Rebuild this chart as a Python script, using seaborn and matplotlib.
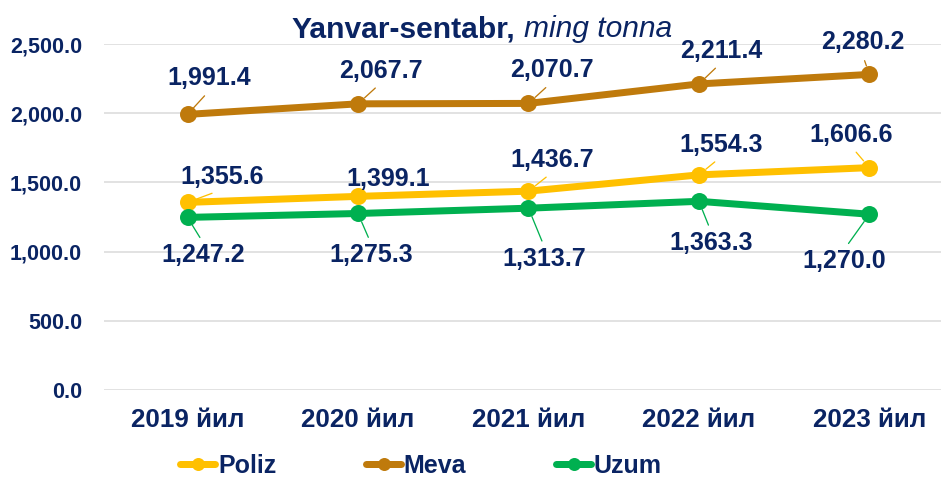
import matplotlib
matplotlib.use("Agg")
import matplotlib.pyplot as plt
import seaborn as sns
import pandas as pd
from matplotlib.lines import Line2D

years = ["2019 йил", "2020 йил", "2021 йил", "2022 йил", "2023 йил"]
poliz = [1355.6, 1399.1, 1436.7, 1554.3, 1606.6]
meva = [1991.4, 2067.7, 2070.7, 2211.4, 2280.2]
uzum = [1247.2, 1275.3, 1313.7, 1363.3, 1270.0]
series_names = ["Poliz", "Meva", "Uzum"]
yticks = [0, 500, 1000, 1500, 2000, 2500]

colors = {"Poliz": "#FFC000", "Meva": "#BF7A0C", "Uzum": "#00B050"}
NAVY = "#0A2463"

sns.set_theme(style="white")
plt.rcParams["font.family"] = ["Liberation Sans", "DejaVu Sans"]

df = pd.concat([
    pd.DataFrame({"year": years, "value": vals, "series": name})
    for name, vals in zip(series_names, [poliz, meva, uzum])
])

DPI = 72
fig = plt.figure(figsize=(941 / DPI, 479 / DPI), dpi=DPI)
ax = fig.add_axes([104 / 941, 1 - 390 / 479, 1 - 104 / 941, (390 - 44) / 479])

sns.lineplot(data=df, x="year", y="value", hue="series", palette=colors,
             hue_order=["Meva", "Poliz", "Uzum"], marker="o", markersize=17,
             markeredgewidth=0, linewidth=7, ax=ax, legend=False, sort=False)

ax.set_ylim(0, 2500)
ax.set_xlim(-0.49, 4.42)
ax.set_yticks(yticks)
ax.set_yticklabels([f"{v:,.1f}" for v in yticks])
ax.yaxis.grid(True, color="#D9D9D9", linewidth=1.5)
ax.set_axisbelow(True)
for s in ax.spines.values():
    s.set_visible(False)
ax.tick_params(axis="y", length=0, pad=22, labelsize=21.5, labelcolor=NAVY)
ax.tick_params(axis="x", length=0, pad=18, labelsize=26, labelcolor=NAVY)
for lab in ax.get_xticklabels() + ax.get_yticklabels():
    lab.set_fontweight("bold")
ax.set_xlabel("")
ax.set_ylabel("")

# data labels with leader lines (offsets in points == pixels at 72 dpi)
offsets = {
    "Meva": [(22, 36), (23, 33), (23, 33), (22, 33), (-7, 32)],
    "Poliz": [(35, 25), (30, 17), (24, 31), (22, 30), (-18, 33)],
    "Uzum": [(16, -38), (13, -42), (16, -51), (12, -42), (-25, -47)],
}
for name, vals in zip(series_names, [poliz, meva, uzum]):
    for i, v in enumerate(vals):
        dx, dy = offsets[name][i]
        rel = (0.5, 0) if dy > 0 else (0.5, 1)
        ax.annotate(f"{v:,.1f}", xy=(i, v), xytext=(dx, dy),
                    textcoords="offset points", ha="center", va="center",
                    fontsize=25, fontweight="bold", color=NAVY,
                    arrowprops=dict(arrowstyle="-", color=colors[name], lw=1.3,
                                    relpos=rel, shrinkA=4, shrinkB=9))

# title
fig.text(515 / 941, 1 - 37 / 479, "Yanvar-sentabr,", ha="right", va="baseline",
         fontsize=30, fontweight="bold", color=NAVY)
fig.text(524 / 941, 1 - 37 / 479, "ming tonna", ha="left", va="baseline",
         fontsize=30, fontstyle="italic", color=NAVY)

handles = [Line2D([], [], color=colors[n], lw=7, marker="o", markersize=13,
                  markeredgewidth=0) for n in series_names]
leg = fig.legend(handles, series_names, loc="center", ncol=3,
                 bbox_to_anchor=(421 / 941, 1 - 466 / 479), frameon=False,
                 handlelength=1.4, handletextpad=0.1, columnspacing=3.6,
                 prop=dict(weight="bold", size=25))
for t in leg.get_texts():
    t.set_color(NAVY)

fig.savefig("out.png", dpi=DPI, facecolor="white")
